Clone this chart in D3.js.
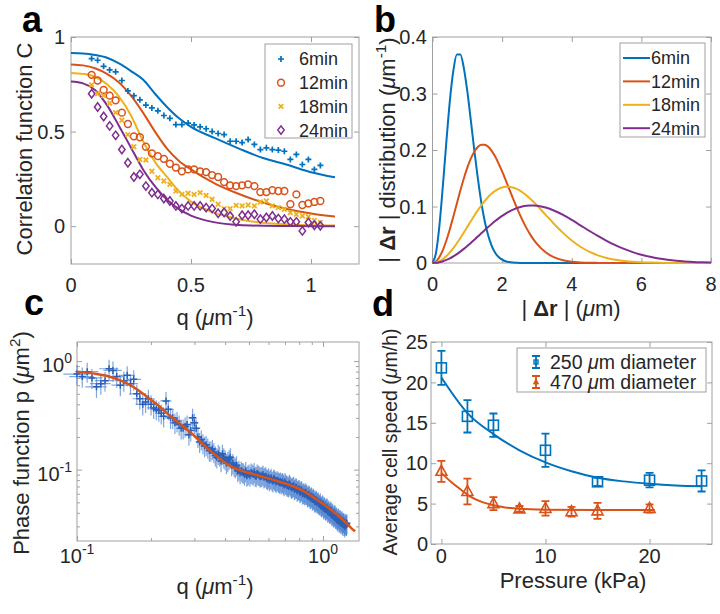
<!DOCTYPE html>
<html><head><meta charset="utf-8">
<script src="https://cdn.jsdelivr.net/npm/d3@7"></script>
<style>
body{margin:0;background:#fff;}
svg{font-family:"Liberation Sans",Arial,Helvetica,sans-serif;}
text{white-space:pre;}
</style></head><body>
<svg id="chart" width="720" height="614"></svg>
<script>
// ---------------- DATA ----------------
// Panel a: correlation function
const seriesA = ["6min","12min","18min","24min"];
const qA = [0.086,0.111,0.136,0.161,0.186,0.212,0.237,0.262,0.287,0.312,0.337,0.362,0.387,0.412,0.437,0.462,0.488,0.513,0.538,0.563,0.588,0.613,0.638,0.663,0.688,0.713,0.738,0.764,0.789,0.814,0.839,0.864,0.889,0.914,0.939,0.964,0.989,1.014,1.039];
const c6  = [0.886,0.877,0.845,0.826,0.816,0.77,0.715,0.69,0.668,0.64,0.625,0.61,0.585,0.57,0.537,0.537,0.545,0.535,0.525,0.515,0.50,0.49,0.484,0.449,0.449,0.442,0.458,0.432,0.405,0.414,0.405,0.402,0.396,0.353,0.379,0.326,0.353,0.30,0.321];
const c12 = [0.80,0.77,0.72,0.69,0.665,0.60,0.54,0.475,0.47,0.42,0.385,0.37,0.356,0.33,0.31,0.29,0.30,0.30,0.29,0.286,0.27,0.26,0.233,0.216,0.212,0.216,0.221,0.212,0.18,0.18,0.19,0.186,0.186,0.116,0.168,0.112,0.12,0.128,0.133];
const c18 = [0.747,0.70,0.69,0.65,0.60,0.56,0.484,0.42,0.353,0.35,0.29,0.256,0.239,0.221,0.186,0.168,0.174,0.168,0.177,0.163,0.142,0.116,0.093,0.093,0.11,0.107,0.112,0.107,0.128,0.133,0.107,0.098,0.089,0.072,0.063,0.054,0.05,0.03,0.02];
const c24 = [0.70,0.63,0.58,0.53,0.48,0.405,0.335,0.26,0.274,0.212,0.177,0.168,0.146,0.133,0.107,0.093,0.107,0.107,0.107,0.098,0.093,0.068,0.072,0.054,0.023,0.058,0.058,0.063,0.037,0.046,0.054,0.04,0.037,0.023,0.023,-0.025,0.019,0.005,0.002];
const fitQA = [0,0.05,0.1,0.15,0.2,0.25,0.3,0.35,0.4,0.45,0.5,0.6,0.7,0.8,0.9,1.0,1.1];
const fit6  = [0.915,0.913,0.905,0.89,0.86,0.82,0.775,0.70,0.63,0.57,0.525,0.465,0.41,0.36,0.325,0.285,0.258];
const fit12 = [0.855,0.85,0.835,0.805,0.76,0.69,0.60,0.50,0.41,0.345,0.30,0.225,0.17,0.125,0.091,0.067,0.051];
const fit18 = [0.81,0.805,0.79,0.75,0.685,0.585,0.45,0.34,0.26,0.185,0.13,0.07,0.037,0.018,0.009,0.005,0.003];
const fit24 = [0.765,0.755,0.72,0.64,0.53,0.415,0.30,0.21,0.14,0.09,0.056,0.02,0.006,0.002,0.001,0,0];

// Panel b: |Δr| distribution
const rB = [0,0.1,0.2,0.3,0.4,0.5,0.6,0.7,0.8,0.9,1.0,1.1,1.2,1.3,1.4,1.5,1.6,1.7,1.8,1.9,2.0,2.1,2.2,2.3,2.4,2.5,2.6,2.7,2.8,2.9,3.0,3.25,3.5,3.75,4.0,4.25,4.5,4.75,5.0,5.25,5.5,5.75,6.0,6.25,6.5,6.75,7.0,7.25,7.5,7.75,8.0];
const d6  = [0,0.0177,0.067,0.138,0.216,0.288,0.341,0.369,0.369,0.345,0.304,0.253,0.200,0.151,0.108,0.074,0.0486,0.0305,0.0183,0.0106,0.0059,0.0031,0.0016,0.0008,0.0004,0.0002,0,0,0,0,0,0,0,0,0,0,0,0,0,0,0,0,0,0,0,0,0,0,0,0,0];
const d12 = [0,0.0027,0.0107,0.0234,0.0403,0.0603,0.0824,0.1054,0.1282,0.1496,0.1687,0.1848,0.1971,0.2054,0.2095,0.2095,0.2057,0.1985,0.1884,0.176,0.162,0.147,0.1315,0.116,0.101,0.0868,0.0737,0.0617,0.0511,0.0418,0.0338,0.0189,0.0098,0.0047,0.0022,0.001,0.0004,0.0002,0.0001,0,0,0,0,0,0,0,0,0,0,0,0];
const d18 = [0,0.0008,0.0031,0.007,0.0123,0.0188,0.0264,0.035,0.0443,0.054,0.0639,0.0739,0.0837,0.0931,0.1018,0.1098,0.1168,0.1228,0.1276,0.1312,0.1337,0.1349,0.1349,0.1337,0.1315,0.1284,0.1243,0.1196,0.1142,0.1082,0.102,0.0853,0.0687,0.0533,0.0399,0.0288,0.0201,0.0136,0.0089,0.0056,0.0035,0.0021,0.0012,0.0007,0.0004,0.0002,0.0001,0,0,0,0];
const d24 = [0,0.0003,0.0014,0.003,0.0054,0.0083,0.0118,0.0157,0.0202,0.025,0.0302,0.0356,0.0412,0.0468,0.0526,0.0582,0.0638,0.0691,0.0742,0.079,0.0834,0.0875,0.091,0.0941,0.0967,0.0988,0.1004,0.1014,0.1019,0.1019,0.1014,0.0982,0.0925,0.085,0.0762,0.0667,0.0571,0.0479,0.0393,0.0316,0.0249,0.0193,0.0146,0.0109,0.0079,0.0057,0.004,0.0028,0.0019,0.0013,0.0008];

// Panel c: phase function (two interleaved sets of measured points)
const qC = [0.10,0.11,0.12,0.13,0.14,0.15,0.16,0.17,0.18,0.19,0.20,0.21,0.22,0.23,0.24,0.25,0.26,0.27,0.28,0.29,0.30,0.31,0.32,0.33,0.34,0.35,0.36,0.37,0.38,0.39,0.40,0.41,0.42,0.43,0.44,0.45,0.46,0.47,0.48,0.49,0.50,0.51,0.52,0.53,0.54,0.55,0.56,0.57,0.58,0.59,0.60,0.61,0.62,0.63,0.64,0.65,0.66,0.67,0.68,0.69,0.70,0.71,0.72,0.73,0.74,0.75,0.76,0.77,0.78,0.79,0.80,0.81,0.82,0.83,0.84,0.85,0.86,0.87,0.88,0.89,0.90,0.91,0.92,0.93,0.94,0.95,0.96,0.97,0.98,0.99,1.00,1.01,1.02,1.03,1.04,1.05,1.06,1.07,1.08,1.09,1.10,1.11,1.12,1.13,1.14,1.15,1.16,1.17,1.18,1.19,1.20,1.21,1.22,1.23,1.24,1.25];
const pC = [0.76,0.80,0.58,0.66,0.82,0.60,0.74,0.68,0.45,0.42,
  0.40,0.36,0.33,0.43,0.30,0.27,0.26,0.24,0.26,0.23,
  0.27,0.20,0.19,0.165,0.16,0.15,0.145,0.13,0.135,0.14,
  0.125,0.12,0.13,0.115,0.105,0.097,0.093,0.095,0.09,0.088,
  0.092,0.094,0.09,0.088,0.092,0.089,0.087,0.09,0.086,0.083,
  0.085,0.082,0.08,0.083,0.079,0.08,0.077,0.078,0.076,0.074,
  0.077,0.073,0.072,0.074,0.07,0.069,0.071,0.067,0.068,0.065,
  0.066,0.063,0.064,0.061,0.06,0.062,0.059,0.057,0.058,0.055,
  0.056,0.054,0.053,0.051,0.052,0.05,0.049,0.048,0.047,0.046,
  0.047,0.045,0.044,0.043,0.044,0.042,0.041,0.04,0.041,0.039,
  0.038,0.037,0.038,0.036,0.035,0.036,0.034,0.035,0.033,0.034,
  0.032,0.033,0.031,0.032,0.031,0.032];
const qC2 = [0.105,0.115,0.125,0.135,0.145,0.155,0.165,0.175,0.185,0.195,0.205,0.215,0.225,0.235,0.245,0.255,0.265,0.275,0.285,0.295,0.305,0.315,0.325,0.335,0.345,0.355,0.365,0.375,0.385,0.395,0.405,0.415,0.425,0.435,0.445,0.455,0.465,0.475,0.485,0.495,0.505,0.515,0.525,0.535,0.545,0.555,0.565,0.575,0.585,0.595,0.605,0.615,0.625,0.635,0.645,0.655,0.665,0.675,0.685,0.695,0.705,0.715,0.725,0.735,0.745,0.755,0.765,0.775,0.785,0.795,0.805,0.815,0.825,0.835,0.845,0.855,0.865,0.875,0.885,0.895,0.905,0.915,0.925,0.935,0.945,0.955,0.965,0.975,0.985,0.995,1.005,1.015,1.025,1.035,1.045,1.055,1.065,1.075,1.085,1.095,1.105,1.115,1.125,1.135,1.145,1.155,1.165,1.175,1.185,1.195,1.205,1.215,1.225,1.235,1.245];
const pC2 = [0.72,0.70,0.62,0.85,0.72,0.66,0.62,0.50,0.40,0.45,
  0.37,0.35,0.31,0.36,0.30,0.28,0.24,0.25,0.21,0.30,
  0.24,0.18,0.175,0.17,0.15,0.155,0.135,0.14,0.12,0.13,
  0.115,0.125,0.11,0.108,0.11,0.10,0.098,0.094,0.097,0.09,
  0.088,0.092,0.095,0.087,0.09,0.086,0.088,0.085,0.087,0.082,
  0.08,0.084,0.078,0.081,0.077,0.079,0.076,0.075,0.077,0.072,
  0.074,0.071,0.07,0.072,0.068,0.07,0.066,0.069,0.064,0.066,
  0.062,0.065,0.06,0.062,0.059,0.06,0.057,0.059,0.055,0.057,
  0.053,0.055,0.051,0.053,0.05,0.051,0.048,0.05,0.046,0.048,
  0.044,0.046,0.043,0.045,0.041,0.043,0.04,0.042,0.038,0.04,
  0.037,0.039,0.036,0.037,0.034,0.036,0.033,0.035,0.032,0.034,
  0.031,0.033,0.030,0.032,0.031];
const qErrC = 0.012;     // horizontal error (µm^-1)
const pRelErrC = 0.21;   // relative vertical error
const fitQC = [0.1,0.12,0.136,0.15,0.169,0.19,0.217,0.24,0.27,0.3,0.326,0.36,0.393,0.43,0.475,0.53,0.59,0.67,0.757,0.85,0.943,1.04,1.137,1.22,1.309,1.35];
const fitPC = [0.80,0.76,0.718,0.665,0.58,0.48,0.38,0.31,0.25,0.205,0.17,0.14,0.119,0.105,0.0965,0.09,0.084,0.077,0.0703,0.062,0.053,0.0455,0.0386,0.0335,0.0286,0.027];

// Panel d: cell speed vs pressure
const legendD = ["250 µm diameter","470 µm diameter"];
const pressA = [0,2.5,5,10,15,20,25];
const speedA = [21.8,15.8,14.7,11.6,7.7,7.9,7.8];
const errA   = [2.1,2.0,1.45,2.05,0.5,0.9,1.3];
const pressB = [0,2.5,5,7.5,10,12.5,15,20];
const speedB = [9.0,6.5,5.0,4.35,4.4,4.0,4.1,4.4];
const errB   = [1.3,1.6,0.8,0.35,0.9,0.6,1.0,0.5];
const fitPA = [0,2.5,5,7.5,10,12.5,15,17.5,20,22.5,25];
const fitSA = [20.6,16.2,13.6,11.6,10.1,9.0,8.2,7.75,7.45,7.25,7.15];
const fitPB = [0,1,2,2.5,3,4,5,6,7.5,10,15,20.5];
const fitSB = [8.8,7.6,6.6,6.1,5.7,5.15,4.8,4.55,4.35,4.25,4.2,4.2];

// ---------------- DRAWING ----------------
const C = ["#0072BD","#D95319","#EDB120","#7E2F8E"];
const TXT = "#262626", BOX = "#a0a0a0";
const svg = d3.select("#chart");

function rich(t, parts, fs) {
  let shift = 0;
  parts.forEach(p => {
    const s = t.append("tspan").text(p.t);
    let target = 0;
    if (p.sup) { s.attr("font-size", fs * 0.7); target = -0.42 * fs; }
    if (p.it) s.attr("font-style", "italic");
    if (p.b) s.attr("font-weight", "bold");
    if (target !== shift) { s.attr("dy", target - shift); shift = target; }
  });
  return t;
}
function label(x, y, parts, fs, rot, anchor) {
  const t = svg.append("text").attr("fill", TXT).attr("font-size", fs)
    .attr("text-anchor", anchor || "middle")
    .attr("transform", `translate(${x},${y})` + (rot ? " rotate(-90)" : ""));
  return rich(t, parts, fs);
}
function frame(x, y, major, minor) {
  const [x0, x1] = x.range(), [y0, y1] = y.range();
  const g = svg.append("g");
  const mk = (axis, tx, ty, vals, size) => {
    g.append("g").attr("transform", `translate(${tx},${ty})`)
      .call(axis.tickValues(vals).tickSize(size).tickFormat(""))
      .call(s => s.select(".domain").remove())
      .call(s => s.selectAll("line").attr("stroke", BOX).attr("stroke-width", 1));
  };
  const sets = [[major, -5]];
  if (minor) sets.push([minor, -3]);
  sets.forEach(([v, sz]) => {
    if (v.x) { mk(d3.axisBottom(x), 0, y0, v.x, sz); mk(d3.axisTop(x), 0, y1, v.x, sz); }
    if (v.y) { mk(d3.axisLeft(y), x0, 0, v.y, sz); mk(d3.axisRight(y), x1, 0, v.y, sz); }
  });
  g.append("rect").attr("x", x0).attr("y", y1).attr("width", x1 - x0).attr("height", y0 - y1)
    .attr("fill", "none").attr("stroke", BOX).attr("stroke-width", 1);
}
function tickLabels(x, y, xt, yt, xBase, yRight) {
  xt.forEach(v => svg.append("text").attr("x", x(v)).attr("y", xBase).attr("text-anchor", "middle")
    .attr("font-size", 20).attr("fill", TXT).text(v));
  yt.forEach(v => svg.append("text").attr("x", yRight).attr("y", y(v)).attr("dy", "0.36em")
    .attr("text-anchor", "end").attr("font-size", 20).attr("fill", TXT).text(v));
}
function letter(x, y, s) {
  svg.append("text").attr("x", x).attr("y", y).attr("font-size", 36).attr("font-weight", "bold")
    .attr("fill", "#000").text(s);
}
const qParts = [{t:"q ("},{t:"\u03BC",it:1},{t:"m"},{t:"-1",sup:1},{t:")"}];

// ---------- Panel a ----------
{
  const x = d3.scaleLinear().domain([0, 1.2]).range([71, 359]);
  const y = d3.scaleLinear().domain([-0.2, 1]).range([264, 37]);
  frame(x, y, {x: [0, 0.5, 1], y: [0, 0.5, 1]});
  tickLabels(x, y, [0, 0.5, 1], [0, 0.5, 1], 292, 65);
  const fits = [fit6, fit12, fit18, fit24];
  const line = d3.line().curve(d3.curveMonotoneX);
  fits.forEach((f, i) => {
    svg.append("path").attr("d", line(fitQA.map((q, k) => [x(q), y(f[k])])))
      .attr("fill", "none").attr("stroke", C[i]).attr("stroke-width", 2);
  });
  const marks = [c6, c12, c18, c24];
  const drawMark = (g, px, py, i) => {
    if (i === 0) g.append("path").attr("d", `M${px-3},${py}H${px+3}M${px},${py-3}V${py+3}`).attr("stroke", C[0]).attr("stroke-width", 1.7);
    if (i === 1) g.append("circle").attr("cx", px).attr("cy", py).attr("r", 3.4).attr("fill", "none").attr("stroke", C[1]).attr("stroke-width", 1.5);
    if (i === 2) g.append("path").attr("d", `M${px-2.3},${py-2.3}L${px+2.3},${py+2.3}M${px-2.3},${py+2.3}L${px+2.3},${py-2.3}`).attr("stroke", C[2]).attr("stroke-width", 1.8);
    if (i === 3) g.append("path").attr("d", `M${px},${py-4.2}L${px+3.2},${py}L${px},${py+4.2}L${px-3.2},${py}Z`).attr("fill", "none").attr("stroke", C[3]).attr("stroke-width", 1.5);
  };
  const gm = svg.append("g");
  marks.forEach((arr, i) => arr.forEach((v, k) => drawMark(gm, x(qA[k]), y(v), i)));
  svg.append("rect").attr("x", 265).attr("y", 44).attr("width", 87).attr("height", 94)
    .attr("fill", "#fff").attr("stroke", BOX);
  seriesA.forEach((s, i) => {
    const yy = 59 + i * 23.7;
    drawMark(svg, 281, yy, i);
    svg.append("text").attr("x", 299).attr("y", yy).attr("dy", "0.36em").attr("font-size", 18).attr("fill", TXT).text(s);
  });
  label(32, 149, [{t:"Correlation function C"}], 22, true);
  label(215, 325, qParts, 22);
  letter(22, 32, "a");
}

// ---------- Panel b ----------
{
  const x = d3.scaleLinear().domain([0, 8]).range([432.5, 711]);
  const y = d3.scaleLinear().domain([0, 0.4]).range([263, 37]);
  frame(x, y, {x: [0, 2, 4, 6, 8], y: [0, 0.1, 0.2, 0.3, 0.4]});
  tickLabels(x, y, [0, 2, 4, 6, 8], [0, 0.1, 0.2, 0.3, 0.4], 291, 427);
  const line = d3.line().curve(d3.curveMonotoneX);
  [d6, d12, d18, d24].forEach((d, i) => {
    svg.append("path").attr("d", line(rB.map((r, k) => [x(r), y(d[k])])))
      .attr("fill", "none").attr("stroke", C[i]).attr("stroke-width", 2);
  });
  svg.append("rect").attr("x", 620).attr("y", 43).attr("width", 85).attr("height", 94)
    .attr("fill", "#fff").attr("stroke", BOX);
  seriesA.forEach((s, i) => {
    const yy = 58 + i * 23.4;
    svg.append("line").attr("x1", 623).attr("x2", 650).attr("y1", yy).attr("y2", yy).attr("stroke", C[i]).attr("stroke-width", 2);
    svg.append("text").attr("x", 651).attr("y", yy).attr("dy", "0.36em").attr("font-size", 18).attr("fill", TXT).text(s);
  });
  label(395, 150, [{t:"| "},{t:"\u0394r",b:1},{t:" | distribution ("},{t:"\u03BC",it:1},{t:"m"},{t:"-1",sup:1},{t:")"}], 22, true);
  label(571, 316, [{t:"| "},{t:"\u0394r",b:1},{t:" | ("},{t:"\u03BC",it:1},{t:"m)"}], 22);
  letter(374, 32, "b");
}

// ---------- Panel c ----------
{
  const x = d3.scaleLog().domain([0.1, 1.4]).range([77, 359]);
  const y = d3.scaleLog().domain([0.022, 1.5]).range([541, 342]);
  const xMinor = [0.2,0.3,0.4,0.5,0.6,0.7,0.8,0.9];
  const yMinor = [0.03,0.04,0.05,0.06,0.07,0.08,0.09,0.2,0.3,0.4,0.5,0.6,0.7,0.8,0.9];
  frame(x, y, {x: [0.1, 1], y: [0.1, 1]}, {x: xMinor, y: yMinor});
  const pts = qC.map((q, k) => [q, pC[k]]).concat(qC2.map((q, k) => [q, pC2[k]]));
  const gE = svg.append("g").attr("stroke", "#4a80cf").attr("stroke-width", 1.2).attr("fill", "none").attr("stroke-opacity", 0.7);
  pts.forEach(([q, p]) => {
    const px = x(q), py = y(p);
    gE.append("path")
      .attr("d", `M${x(q - qErrC)},${py}H${x(q + qErrC)}M${px},${y(p * (1 - pRelErrC))}V${y(p * (1 + pRelErrC))}`);
  });
  const gM = svg.append("g").attr("stroke", "#2c60b8").attr("stroke-width", 1.5).attr("fill", "none");
  pts.forEach(([q, p]) => {
    const px = x(q), py = y(p);
    gM.append("path").attr("d", `M${px-3.5},${py}H${px+3.5}M${px},${py-3.5}V${py+3.5}`);
  });
  svg.append("path").attr("d", d3.line().curve(d3.curveMonotoneX)(fitQC.map((q, k) => [x(q), y(fitPC[k])])))
    .attr("fill", "none").attr("stroke", "#D95319").attr("stroke-width", 2.5);
  [[0.1, "-1"], [1, "0"]].forEach(([v, e]) => {
    const t = svg.append("text").attr("x", x(v)).attr("y", 563).attr("text-anchor", "middle").attr("font-size", 20).attr("fill", TXT);
    t.append("tspan").text("10"); t.append("tspan").attr("font-size", 14).attr("dy", -9).text(e);
    const u = svg.append("text").attr("x", 72).attr("y", y(v) + 11).attr("text-anchor", "end").attr("font-size", 20).attr("fill", TXT);
    u.append("tspan").text("10"); u.append("tspan").attr("font-size", 14).attr("dy", -9).text(e);
  });
  label(29, 443, [{t:"Phase function p ("},{t:"\u03BC",it:1},{t:"m"},{t:"2",sup:1},{t:")"}], 22, true);
  label(215, 594, qParts, 22);
  letter(24, 315, "c");
}

// ---------- Panel d ----------
{
  const x = d3.scaleLinear().domain([-1, 26]).range([431, 712]);
  const y = d3.scaleLinear().domain([0, 25]).range([544, 342]);
  frame(x, y, {x: [0, 10, 20], y: [0, 5, 10, 15, 20, 25]});
  tickLabels(x, y, [0, 10, 20], [0, 5, 10, 15, 20, 25], 563, 428);
  const line = d3.line().curve(d3.curveMonotoneX);
  svg.append("path").attr("d", line(fitPA.map((p, k) => [x(p), y(fitSA[k])]))).attr("fill", "none").attr("stroke", C[0]).attr("stroke-width", 2);
  svg.append("path").attr("d", line(fitPB.map((p, k) => [x(p), y(fitSB[k])]))).attr("fill", "none").attr("stroke", C[1]).attr("stroke-width", 2);
  const errbar = (px, yLo, yHi, col) => svg.append("path")
    .attr("d", `M${px},${yLo}V${yHi}M${px-4},${yLo}H${px+4}M${px-4},${yHi}H${px+4}`)
    .attr("stroke", col).attr("stroke-width", 1.8).attr("fill", "none");
  const square = (px, py, s) => svg.append("rect").attr("x", px - s / 2).attr("y", py - s / 2).attr("width", s).attr("height", s)
    .attr("fill", "none").attr("stroke", C[0]).attr("stroke-width", 1.6);
  const tri = (px, py, s) => svg.append("path").attr("d", `M${px},${py - s * 0.6}L${px + s * 0.55},${py + s * 0.4}L${px - s * 0.55},${py + s * 0.4}Z`)
    .attr("fill", "none").attr("stroke", C[1]).attr("stroke-width", 1.6);
  pressA.forEach((p, k) => { errbar(x(p), y(speedA[k] - errA[k]), y(speedA[k] + errA[k]), C[0]); square(x(p), y(speedA[k]), 10); });
  pressB.forEach((p, k) => { errbar(x(p), y(speedB[k] - errB[k]), y(speedB[k] + errB[k]), C[1]); tri(x(p), y(speedB[k]), 10); });
  svg.append("rect").attr("x", 517).attr("y", 348).attr("width", 189).attr("height", 44)
    .attr("fill", "#fff").attr("stroke", BOX);
  [0, 1].forEach(i => {
    const yy = 362 + i * 20;
    errbar(536, yy - 6, yy + 6, C[i]);
    if (i === 0) svg.append("rect").attr("x", 534).attr("y", yy - 2).attr("width", 4).attr("height", 4).attr("fill", "none").attr("stroke", C[0]).attr("stroke-width", 1.4);
    else svg.append("path").attr("d", `M536,${yy - 3}L538.5,${yy + 2}L533.5,${yy + 2}Z`).attr("fill", C[1]).attr("stroke", C[1]);
    const t = svg.append("text").attr("x", 550).attr("y", yy).attr("dy", "0.36em").attr("font-size", 19.5).attr("fill", TXT);
    const parts = legendD[i].split("\u00B5");
    rich(t, [{t: parts[0]}, {t: "\u03BC", it: 1}, {t: parts[1]}], 19.5);
  });
  label(397, 442, [{t:"Average cell speed ("},{t:"\u03BC",it:1},{t:"m/h)"}], 19.5, true);
  label(573, 588, [{t:"Pressure (kPa)"}], 22);
  letter(372, 316, "d");
}
</script>
</body></html>
